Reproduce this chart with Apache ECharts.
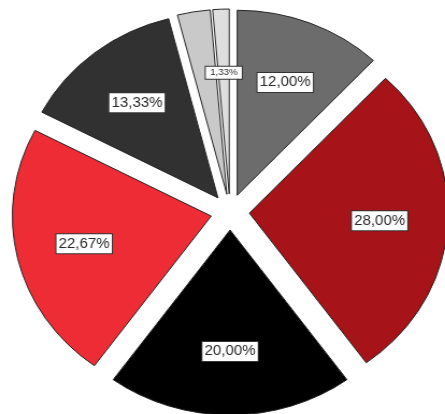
<!DOCTYPE html>
<html>
<head>
<meta charset="utf-8">
<script src="https://cdn.jsdelivr.net/npm/echarts@6/dist/echarts.min.js"></script>
<style>
  html, body { margin: 0; padding: 0; background: #ffffff; overflow: hidden; }
  /* the pie is drawn slightly wider than tall */
  #chart { width: 414px; height: 414px; transform: scaleX(1.075); transform-origin: 0 0; }
</style>
</head>
<body>
<div id="chart"></div>
<script>
// Share of each category, clockwise from 12 o'clock
const categories = ['Categoria 1', 'Categoria 2', 'Categoria 3', 'Categoria 4', 'Categoria 5', 'Categoria 6', 'Categoria 7'];
const values = [12.00, 28.00, 20.00, 22.67, 13.33, 2.67, 1.33];
const colors = ['#6c6c6c', '#a61318', '#000000', '#ee2c35', '#313131', '#c9c9c9', '#dedede'];
const labelled = [true, true, true, true, true, false, true];

const fmt = v => v.toFixed(2).replace('.', ',') + '%';

const center = [214, 212];
const R = 185;
const offset = 18;

// filled slices, all pulled out from the centre
const sliceData = categories.map((name, i) => ({
  name,
  value: values[i],
  selected: true,
  itemStyle: { color: colors[i] }
}));

// transparent twin carrying the boxed percentage labels
const labelData = categories.map((name, i) => ({
  name,
  value: values[i],
  selected: true,
  label: values[i] < 2
    ? { show: labelled[i], fontSize: 9, lineHeight: 10, padding: [1, 4] }
    : { show: labelled[i] }
}));

const chart = echarts.init(document.getElementById('chart'), null, { renderer: 'canvas' });
chart.setOption({
  animation: false,
  backgroundColor: '#ffffff',
  series: [
    {
      type: 'pie',
      center,
      radius: [0, R],
      startAngle: 90,
      clockwise: true,
      selectedMode: 'multiple',
      selectedOffset: offset,
      silent: true,
      label: { show: false },
      labelLine: { show: false },
      itemStyle: { borderColor: '#262626', borderWidth: 1 },
      select: { itemStyle: { borderColor: '#262626', borderWidth: 1 } },
      emphasis: { disabled: true },
      data: sliceData
    },
    {
      type: 'pie',
      center,
      radius: [R * 0.28, R],
      startAngle: 90,
      clockwise: true,
      selectedMode: 'multiple',
      selectedOffset: offset,
      silent: true,
      itemStyle: { color: 'rgba(0,0,0,0)', borderWidth: 0 },
      select: { itemStyle: { color: 'rgba(0,0,0,0)', borderWidth: 0 } },
      emphasis: { disabled: true },
      labelLine: { show: false },
      label: {
        show: true,
        position: 'inside',
        formatter: p => fmt(p.value),
        fontFamily: 'Liberation Sans, Arial, sans-serif',
        fontSize: 14,
        lineHeight: 15,
        color: '#2b2b2b',
        backgroundColor: '#ffffff',
        borderColor: '#333333',
        borderWidth: 1,
        padding: [2, 2]
      },
      data: labelData
    }
  ]
});
</script>
</body>
</html>
